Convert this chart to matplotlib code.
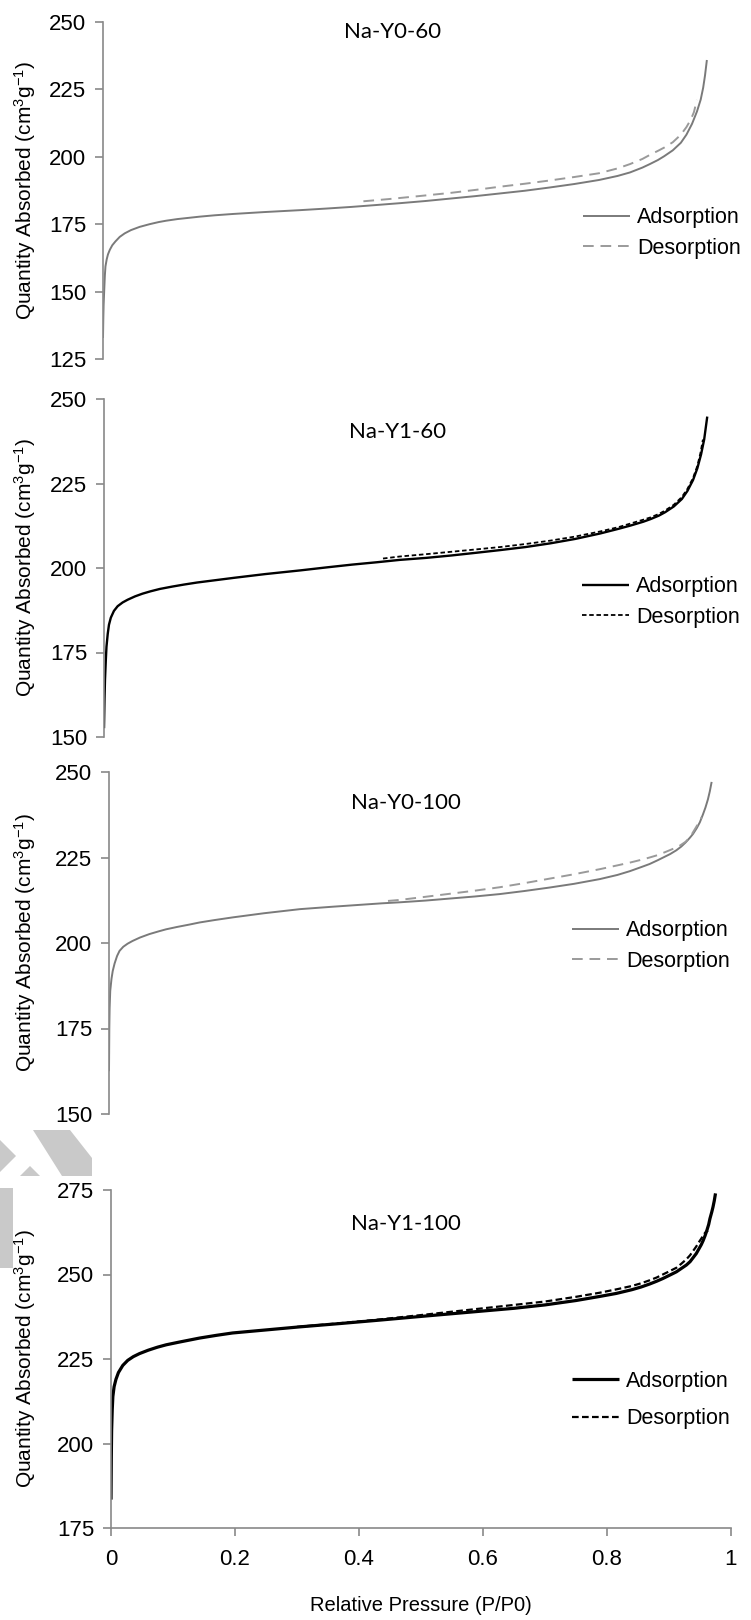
import matplotlib
matplotlib.use("Agg")
import matplotlib.pyplot as plt
from matplotlib.patches import Polygon, Rectangle

plt.rcParams["font.family"] = ["Liberation Sans", "DejaVu Sans"]
plt.rcParams["mathtext.fontset"] = "custom"
plt.rcParams["mathtext.rm"] = "Liberation Sans"
plt.rcParams["mathtext.it"] = "Liberation Sans"

W, H = 751, 1620

# Na-Y0-60
y060_ads_x = [0, 0.0005, 0.001, 0.002, 0.003, 0.004, 0.006, 0.008, 0.011, 0.015, 0.02, 0.027, 0.035,
              0.045, 0.059, 0.075, 0.09, 0.102, 0.12, 0.14, 0.156, 0.18, 0.21, 0.26, 0.317, 0.36, 0.4,
              0.44, 0.479, 0.52, 0.56, 0.6, 0.64, 0.68, 0.72, 0.76, 0.8, 0.83, 0.85, 0.87, 0.882, 0.895,
              0.905, 0.919, 0.932, 0.941, 0.95, 0.958, 0.964, 0.968, 0.971, 0.974]
y060_ads_y = [132.8, 140, 145, 150.7, 156, 159.4, 162, 163.8, 165.5, 167.2, 168.6, 170.3, 171.6,
              172.8, 174.0, 175.0, 175.8, 176.3, 176.9, 177.4, 177.8, 178.3, 178.8, 179.5, 180.2, 180.8, 181.4,
              182.1, 182.8, 183.6, 184.5, 185.4, 186.4, 187.4, 188.6, 189.9, 191.4, 192.9, 194.2, 196.0, 197.3, 198.8,
              200.2, 202.4, 205.2, 208.2, 212.2, 216.8, 221.2, 225.6, 230.2, 235.9]
y060_des_x = [0.42, 0.46, 0.5, 0.56, 0.6, 0.64, 0.68, 0.72, 0.76, 0.8, 0.83, 0.85, 0.87, 0.882,
              0.895, 0.905, 0.919, 0.932, 0.941, 0.948, 0.953, 0.958]
y060_des_y = [183.5, 184.3, 185.2, 186.6, 187.7, 188.9, 190.0, 191.2, 192.5, 193.9, 195.7, 197.3, 199.2, 200.7,
              202.2, 203.4, 205.4, 208.2, 211.0, 213.8, 216.5, 221.1]

# Na-Y1-60
y160_ads_x = [0, 0.0008, 0.0016, 0.003, 0.004, 0.006, 0.008, 0.011, 0.016, 0.022, 0.03, 0.038, 0.05,
              0.062, 0.075, 0.09, 0.11, 0.129, 0.15, 0.18, 0.21, 0.26, 0.317, 0.36, 0.4, 0.44, 0.477,
              0.52, 0.56, 0.6, 0.639, 0.68, 0.72, 0.76, 0.8, 0.83, 0.85, 0.87, 0.882, 0.895, 0.905,
              0.919, 0.932, 0.941, 0.95, 0.957, 0.963, 0.968, 0.973]
y160_ads_y = [152.6, 161, 166.9, 173, 176.7, 180.5, 183.2, 185.3, 187.3, 188.7, 189.8, 190.6, 191.6,
              192.4, 193.1, 193.8, 194.5, 195.1, 195.7, 196.4, 197.1, 198.2, 199.3, 200.2, 201.0, 201.7, 202.4,
              203.0, 203.7, 204.5, 205.3, 206.2, 207.3, 208.6, 210.2, 211.6, 212.6, 213.7, 214.5, 215.5, 216.5,
              218.2, 220.4, 222.8, 226.0, 229.5, 233.6, 238.0, 244.8]
y160_des_x = [0.45, 0.477, 0.52, 0.56, 0.6, 0.639, 0.68, 0.72, 0.76, 0.8, 0.83, 0.85, 0.87, 0.882,
              0.895, 0.905, 0.919, 0.932, 0.941, 0.95, 0.957, 0.962, 0.966]
y160_des_y = [202.8, 203.4, 204.1, 204.8, 205.5, 206.2, 207.1, 208.1, 209.3, 210.8, 212.1, 213.2, 214.3, 215.0,
              216.0, 217.0, 218.7, 221.0, 223.4, 226.6, 230.2, 234.0, 238.0]

# Na-Y0-100
y0100_ads_x = [0, 0.0005, 0.001, 0.002, 0.004, 0.006, 0.009, 0.013, 0.017, 0.023, 0.03, 0.038, 0.05,
               0.065, 0.08, 0.092, 0.11, 0.13, 0.146, 0.17, 0.2, 0.25, 0.308, 0.36, 0.4, 0.44, 0.469,
               0.51, 0.55, 0.59, 0.63, 0.67, 0.71, 0.75, 0.792, 0.82, 0.84, 0.86, 0.872, 0.885, 0.895,
               0.905, 0.915, 0.923, 0.93, 0.937, 0.942, 0.948, 0.953, 0.958, 0.962, 0.966, 0.969, 0.972]
y0100_ads_y = [162.5, 175.2, 181, 186.0, 189.5, 191.8, 194, 196.2, 197.7, 198.9, 199.8, 200.6, 201.6,
               202.6, 203.4, 204.0, 204.7, 205.4, 206.0, 206.7, 207.5, 208.7, 209.9, 210.6, 211.1, 211.6, 211.9,
               212.4, 213.0, 213.6, 214.3, 215.2, 216.2, 217.3, 218.7, 219.9, 221.0, 222.3, 223.1, 224.2, 225.1,
               226.0, 227.1, 228.2, 229.4, 230.8, 231.9, 233.6, 235.3, 237.6, 239.6, 242.0, 244.3, 247.1]
y0100_des_x = [0.45, 0.469, 0.51, 0.55, 0.59, 0.63, 0.67, 0.71, 0.75, 0.792, 0.82, 0.84, 0.86, 0.872,
               0.885, 0.9, 0.912, 0.921, 0.93, 0.937, 0.942, 0.947, 0.952, 0.956]
y0100_des_y = [212.3, 212.6, 213.5, 214.4, 215.3, 216.3, 217.5, 218.8, 220.1, 221.6, 222.7, 223.5, 224.4, 225.0,
               225.7, 226.8, 227.7, 228.5, 229.6, 230.9, 232.4, 233.9, 235.4, 236.8]

# Na-Y1-100
y1100_ads_x = [0, 0.0005, 0.001, 0.002, 0.003, 0.005, 0.008, 0.012, 0.019, 0.027, 0.036, 0.046, 0.06,
               0.075, 0.089, 0.11, 0.143, 0.17, 0.196, 0.25, 0.304, 0.37, 0.433, 0.5, 0.55, 0.6, 0.65,
               0.7, 0.75, 0.788, 0.815, 0.84, 0.855, 0.869, 0.88, 0.89, 0.9, 0.912, 0.92, 0.928, 0.934,
               0.939, 0.944, 0.948, 0.952, 0.955, 0.958, 0.961, 0.964, 0.966, 0.969, 0.971, 0.973, 0.975]
y1100_ads_y = [183.4, 196, 203.8, 210, 213.9, 216.8, 219, 221, 223.1, 224.6, 225.7, 226.6, 227.6,
               228.5, 229.2, 230.0, 231.2, 232.0, 232.7, 233.6, 234.5, 235.5, 236.5, 237.6, 238.4, 239.2, 240.0,
               241.0, 242.3, 243.5, 244.4, 245.5, 246.3, 247.2, 248.0, 248.8, 249.7, 250.8, 251.8, 252.8, 253.8,
               255.0, 256.2, 257.5, 258.8, 260.0, 261.4, 263.0, 264.8, 266.5, 268.5, 270.0, 271.8, 274.0]
y1100_des_x = [0.3, 0.37, 0.433, 0.5, 0.55, 0.6, 0.65, 0.7, 0.75, 0.788, 0.815, 0.84, 0.855, 0.869,
               0.88, 0.89, 0.9, 0.912, 0.92, 0.928, 0.934, 0.939, 0.944, 0.948, 0.952, 0.955, 0.958, 0.961, 0.963]
y1100_des_y = [234.5, 235.6, 236.7, 238.0, 239.0, 240.0, 241.0, 242.0, 243.4, 244.6, 245.6, 246.6, 247.4, 248.3,
               249.1, 250.0, 250.9, 252.0, 253.2, 254.5, 255.7, 257.0, 258.3, 259.5, 260.6, 261.5, 262.3, 262.8, 263.0]

titles = ["Na-Y0-60", "Na-Y1-60", "Na-Y0-100", "Na-Y1-100"]
y_ranges = [(125, 250), (150, 250), (150, 250), (175, 275)]
x_ticks = [0, 0.2, 0.4, 0.6, 0.8, 1]
x_tick_labels = ["0", "0.2", "0.4", "0.6", "0.8", "1"]


def px_box(left, top, right, bottom):
    return [left / W, 1 - bottom / H, (right - left) / W, (bottom - top) / H]


fig = plt.figure(figsize=(W / 100, H / 100), dpi=100)

# axes boxes in pixels: left, top, right, bottom
boxes = [(103, 22, 723, 359), (104, 399, 724, 737), (109, 772, 729, 1114), (111, 1190, 731, 1528)]
title_pos = [(393, 32), (398, 432), (406, 803), (406, 1224)]
legend_pos = [(583, 233), (582, 602), (572, 946), (572, 1400)]
legend_gap = [0.45, 0.45, 0.45, 0.75]

series = [
    (y060_ads_x, y060_ads_y, y060_des_x, y060_des_y),
    (y160_ads_x, y160_ads_y, y160_des_x, y160_des_y),
    (y0100_ads_x, y0100_ads_y, y0100_des_x, y0100_des_y),
    (y1100_ads_x, y1100_ads_y, y1100_des_x, y1100_des_y),
]

styles = [
    dict(ads=dict(color="#7a7a7a", lw=1.4), des=dict(color="#9a9a9a", lw=1.4, dashes=(5.5, 3.5))),
    dict(ads=dict(color="#000000", lw=1.7), des=dict(color="#000000", lw=1.3, dashes=(2.5, 1.5))),
    dict(ads=dict(color="#7a7a7a", lw=1.4), des=dict(color="#9a9a9a", lw=1.4, dashes=(5.5, 3.5))),
    dict(ads=dict(color="#000000", lw=2.3), des=dict(color="#000000", lw=1.6, dashes=(3, 1.5))),
]

axis_grey = "#898989"

# faint watermark shapes between the third and fourth panels
wm = "#c9c9c9"
wm_shapes = [
    [(33, 1130), (70, 1130), (92, 1158), (92, 1176), (62, 1176)],
    [(0, 1140), (16, 1156), (0, 1172)],
    [(20, 1176), (30, 1166), (40, 1176)],
]
for shape in wm_shapes:
    fig.patches.append(Polygon([(x / W, 1 - y / H) for x, y in shape], closed=True,
                               transform=fig.transFigure, facecolor=wm, edgecolor="none", zorder=-1))
fig.patches.append(Rectangle((0, 1 - 1268 / H), 13 / W, 80 / H, transform=fig.transFigure,
                             facecolor=wm, edgecolor="none", zorder=-1))

for i, box in enumerate(boxes):
    ax = fig.add_axes(px_box(*box))
    ax.patch.set_alpha(0)
    ax_x, ax_y, de_x, de_y = series[i]
    ax.plot(ax_x, ax_y, solid_capstyle="butt", solid_joinstyle="round", label="Adsorption",
            **styles[i]["ads"])
    ax.plot(de_x, de_y, label="Desorption", **styles[i]["des"])

    ax.set_xlim(0, 1)
    lo, hi = y_ranges[i]
    ax.set_ylim(lo, hi)
    ax.set_yticks(range(lo, hi + 1, 25))

    for side in ["top", "right"]:
        ax.spines[side].set_visible(False)
    ax.spines["left"].set_color(axis_grey)
    ax.spines["left"].set_linewidth(1.2)
    ax.tick_params(axis="y", direction="out", length=6, width=1.2, color=axis_grey,
                   labelsize=16, labelcolor="black", pad=6)

    if i == 3:
        ax.spines["bottom"].set_color(axis_grey)
        ax.spines["bottom"].set_linewidth(1.2)
        ax.set_xticks(x_ticks)
        ax.set_xticklabels(x_tick_labels)
        ax.tick_params(axis="x", direction="out", length=6, width=1.2, color=axis_grey,
                       labelsize=16, labelcolor="black", pad=9)
        ax.set_xlabel("Relative Pressure (P/P0)", fontsize=14.5, labelpad=19)
    else:
        ax.spines["bottom"].set_visible(False)
        ax.set_xticks([])

    ax.set_ylabel("Quantity Absorbed (cm$^3$g$^{-1}$)", fontsize=15)
    ax.yaxis.set_label_coords((38 - box[0]) / (box[2] - box[0]), 0.5)

    tx, ty = title_pos[i]
    fig.text(tx / W, 1 - ty / H, titles[i], ha="center", va="center",
             fontsize=16, family=["Lato", "DejaVu Sans"])

    lx, ly = legend_pos[i]
    ax.legend(loc="center left", bbox_to_anchor=(lx / W, 1 - ly / H), bbox_transform=fig.transFigure,
              frameon=False, fontsize=15.5, handlelength=2.2, handletextpad=0.3,
              borderpad=0, borderaxespad=0, labelspacing=legend_gap[i])

fig.savefig("out.png", dpi=100)
